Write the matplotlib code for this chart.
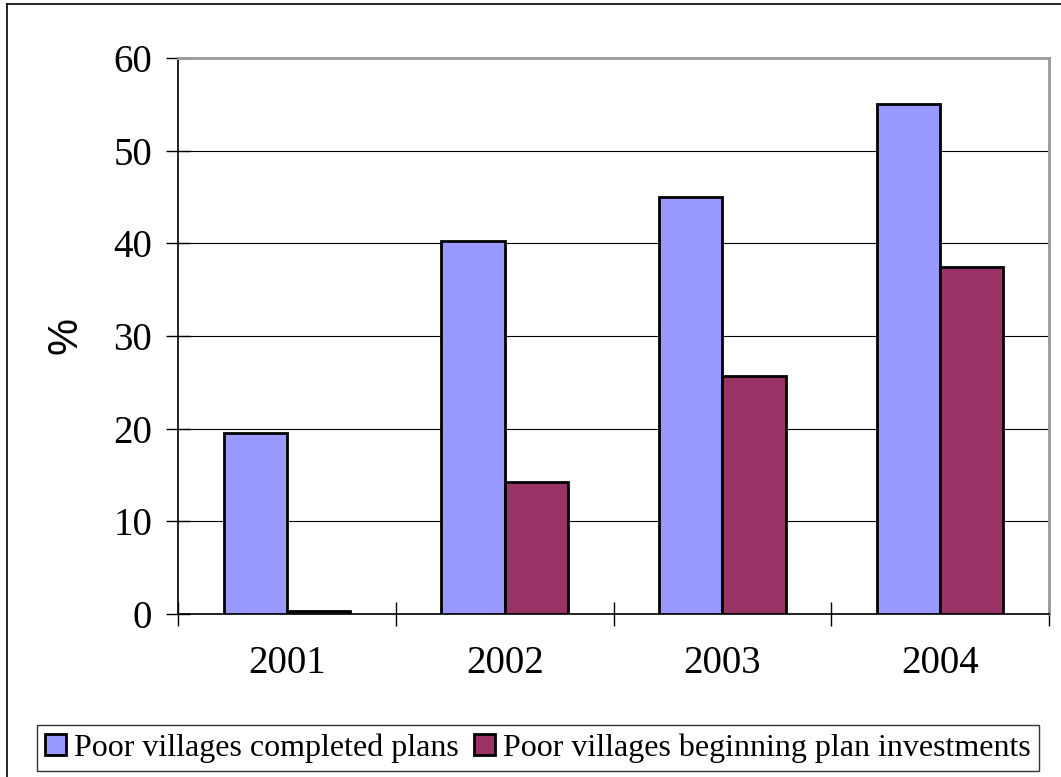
import matplotlib.pyplot as plt
import numpy as np
from matplotlib.lines import Line2D

years = ["2001", "2002", "2003", "2004"]
completed_plans = [19.5, 40.3, 45.0, 55.0]
beginning_investments = [0.3, 14.2, 25.7, 37.4]
y_ticks = [0, 10, 20, 30, 40, 50, 60]

serif = "Liberation Serif"

fig = plt.figure(figsize=(10.61, 7.77), dpi=100)
ax = fig.add_axes([178 / 1061, 1 - 614 / 777, (1049 - 178) / 1061, (614 - 58) / 777])

x = np.arange(len(years))
w = 0.29
ax.bar(x - w / 2, completed_plans, w, color="#9999FF", edgecolor="black",
       linewidth=2, label="Poor villages completed plans", zorder=3)
ax.bar(x + w / 2, beginning_investments, w, color="#993366", edgecolor="black",
       linewidth=2, label="Poor villages beginning plan investments", zorder=3)

ax.set_xlim(-0.5, len(years) - 0.5)
ax.set_ylim(0, 60)
ax.set_yticks(y_ticks)
ax.set_yticklabels([str(v) for v in y_ticks], fontfamily=serif, fontsize=28)
ax.yaxis.grid(True, color="black", linewidth=0.8)
ax.set_axisbelow(True)

# category labels in the middle, ticks on the boundaries
ax.set_xticks(np.arange(len(years) + 1) - 0.5)
ax.set_xticklabels([])
ax.set_xticks(x, minor=True)
ax.set_xticklabels(years, minor=True, fontfamily=serif, fontsize=28)
ax.tick_params(axis="x", which="minor", length=0, pad=22)
ax.tick_params(axis="x", which="major", direction="inout", length=17, width=1)
ax.tick_params(axis="y", direction="inout", length=17, width=1, pad=10)

for side in ["left", "bottom"]:
    ax.spines[side].set_color("black")
    ax.spines[side].set_linewidth(1.2)
for side in ["top", "right"]:
    ax.spines[side].set_color("#999999")
    ax.spines[side].set_linewidth(2)

fig.text(65 / 1061, 1 - 335 / 777, "%", rotation=90, fontfamily="Liberation Sans",
         fontsize=30, ha="center", va="center")

leg = fig.legend(loc="center", bbox_to_anchor=(538 / 1061, 1 - 748 / 777),
                 ncol=2, frameon=True, fancybox=False, edgecolor="black",
                 prop={"family": serif, "size": 23}, handlelength=0.65,
                 handleheight=0.65, handletextpad=0.25, columnspacing=0.5,
                 borderpad=0.25, borderaxespad=0)
leg.get_frame().set_linewidth(1)

# outer chart border (left and top edges visible)
fig.add_artist(Line2D([7 / 1061, 7 / 1061], [0, 1 - 4 / 777], color="black",
                      linewidth=1.2, transform=fig.transFigure))
fig.add_artist(Line2D([7 / 1061, 1], [1 - 4 / 777, 1 - 4 / 777], color="black",
                      linewidth=1.2, transform=fig.transFigure))

fig.savefig("out.png", dpi=100)
